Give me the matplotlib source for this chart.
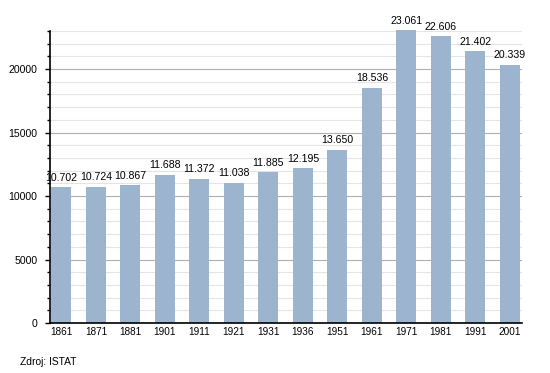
import matplotlib.pyplot as plt
from matplotlib.ticker import MultipleLocator

plt.rcParams['font.family'] = ['Liberation Sans', 'DejaVu Sans']

years = ['1861', '1871', '1881', '1901', '1911', '1921', '1931',
         '1936', '1951', '1961', '1971', '1981', '1991', '2001']
population = [10702, 10724, 10867, 11688, 11372, 11038, 11885,
              12195, 13650, 18536, 23061, 22606, 21402, 20339]

fig = plt.figure(figsize=(5.5, 3.73), dpi=100)
ax = fig.add_axes([0.091, 0.134, 0.858, 0.783])

x = range(len(years))
ax.bar(x, population, width=0.58, color='#9cb4cd', zorder=3, clip_on=False)

for i, v in zip(x, population):
    label = f'{v:,}'.replace(',', '.')
    ax.text(i, v + 350, label, ha='center', va='bottom', fontsize=7.6, zorder=4)

ax.set_xlim(-0.33, 13.35)
ax.set_ylim(0, 23000)
ax.set_xticks(list(x))
ax.set_xticklabels(years, fontsize=7.2)
ax.tick_params(axis='x', length=0, pad=3)

ax.yaxis.set_major_locator(MultipleLocator(5000))
ax.yaxis.set_minor_locator(MultipleLocator(1000))
ax.tick_params(axis='y', which='major', labelsize=7.6, length=3.6, width=1, pad=5.5)
ax.tick_params(axis='y', which='minor', length=2.2, width=1)
ax.grid(axis='y', which='major', color='#b0b0b0', linewidth=0.8, zorder=0)
ax.grid(axis='y', which='minor', color='#e4e4e4', linewidth=0.8, zorder=0)

for s in ['top', 'right']:
    ax.spines[s].set_visible(False)
ax.spines['left'].set_linewidth(1.2)
ax.spines['bottom'].set_linewidth(1.2)
ax.spines['bottom'].set_zorder(5)

fig.text(20 / 550, 1 - 362 / 373, 'Zdroj: ISTAT', fontsize=7.4, va='center')

fig.savefig('out.png', dpi=100)
